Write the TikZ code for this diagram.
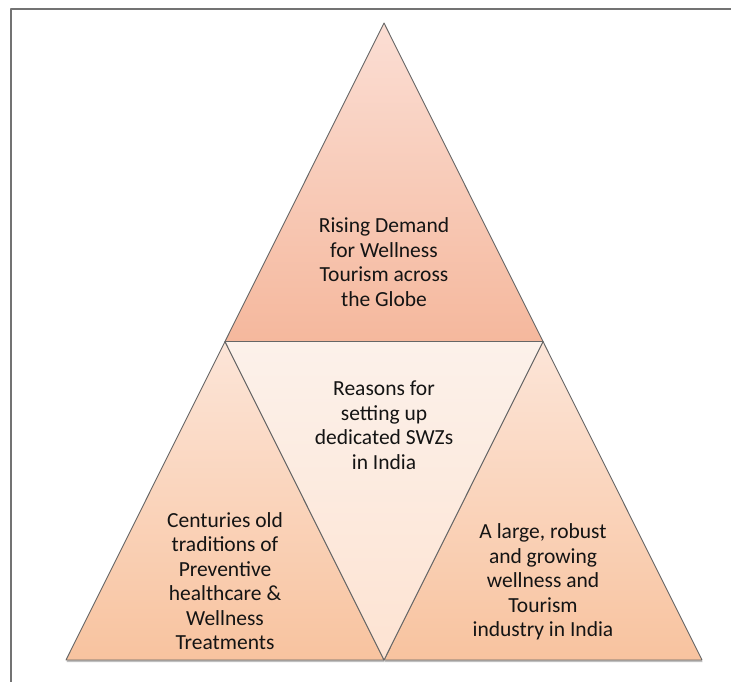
\documentclass[tikz,border=0pt]{standalone}
\usepackage{fontspec}
\setmainfont{Carlito}
\usetikzlibrary{shadows}
\definecolor{topup}{HTML}{FBDED4}
\definecolor{topdown}{HTML}{F5B89D}
\definecolor{midup}{HTML}{FCF1EA}
\definecolor{middown}{HTML}{FDE3D2}
\definecolor{sideup}{HTML}{FCE5D8}
\definecolor{sidedown}{HTML}{F8C39F}
\tikzset{
	tri/.style={draw=black!60,line width=0.9pt},
	shad/.style={drop shadow={shadow xshift=0.5pt,shadow yshift=-2pt,opacity=0.25,fill=black}},
	lbl/.style={align=center,text=black!92}
}
\begin{document}
\begin{tikzpicture}[x=1pt,y=-1pt,line join=round,font=\fontsize{21.5}{24.5}\selectfont]
	\useasboundingbox (0,0) rectangle (731,682);
	%Khung
	\draw[black!55,line width=1.6pt] (11,682)--(11,9)--(731,9);
	%Dinh
	\coordinate (apex) at (384,23);
	\coordinate (bl) at (66,660);
	\coordinate (br) at (702,660);
	\coordinate (ml) at (225,341.5);
	\coordinate (mr) at (543,341.5);
	\coordinate (mb) at (384,660);
	%Tam giac
	\shade[tri,shad,top color=topup,bottom color=topdown] (apex)--(mr)--(ml)--cycle;
	\shade[tri,shad,top color=sideup,bottom color=sidedown] (ml)--(mb)--(bl)--cycle;
	\shade[tri,shad,top color=sideup,bottom color=sidedown] (mr)--(br)--(mb)--cycle;
	\shade[tri,top color=midup,bottom color=middown] (ml)--(mr)--(mb)--cycle;
	%Chu
	\node[lbl] (demand) at (384,262) {Rising Demand\\for Wellness\\Tourism across\\the Globe};
	\node[lbl] (reasons) at (384,425) {Reasons for\\setting up\\dedicated SWZs\\in India};
	\node[lbl] (traditions) at (225,581) {Centuries old\\traditions of\\Preventive\\healthcare \&\\Wellness\\Treatments};
	\node[lbl] (industry) at (543,582) {A large, robust\\and growing\\wellness and\\Tourism\\industry in India};
\end{tikzpicture}
\end{document}
